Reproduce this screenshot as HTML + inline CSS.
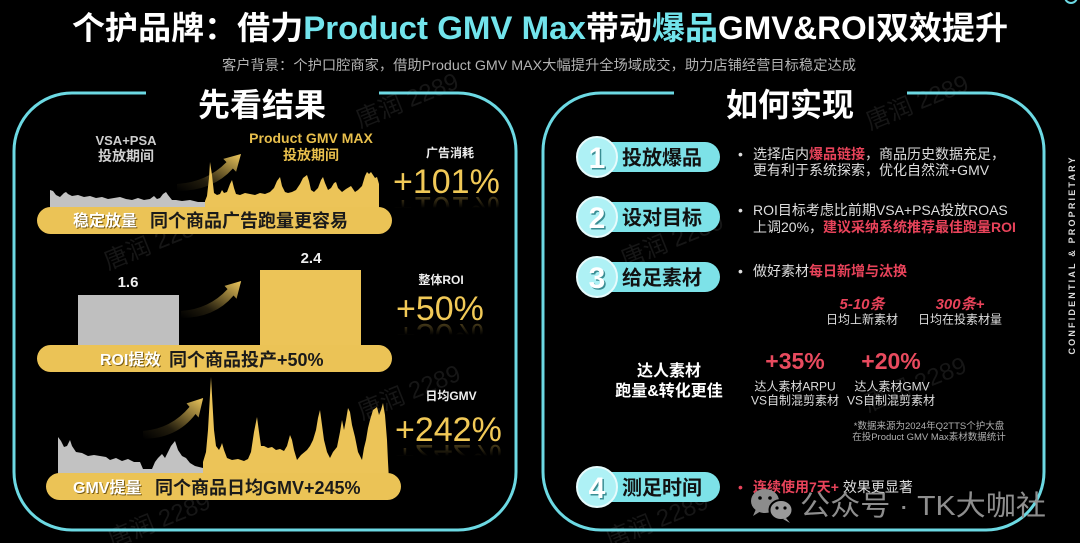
<!DOCTYPE html>
<html><head><meta charset="utf-8"><style>
html,body{margin:0;padding:0;background:#000;}
svg{display:block;}
</style></head><body>
<svg width="1080" height="543" viewBox="0 0 1080 543" xmlns="http://www.w3.org/2000/svg" font-family="'Liberation Sans','Noto Sans CJK SC',sans-serif">
<defs>
<linearGradient id="ag" x1="0" y1="1" x2="1" y2="0">
<stop offset="0" stop-color="#e9c35a" stop-opacity="0"/>
<stop offset="0.35" stop-color="#e9c35a" stop-opacity="0.15"/>
<stop offset="1" stop-color="#eec85c" stop-opacity="1"/>
</linearGradient>
<linearGradient id="rg" x1="0" y1="0" x2="0" y2="1">
<stop offset="0" stop-color="#f0c85a" stop-opacity="0"/>
<stop offset="0.5" stop-color="#f0c85a" stop-opacity="0"/>
<stop offset="1" stop-color="#f0c85a" stop-opacity="0.5"/>
</linearGradient>
<path id="arr" d="M0,30 Q30,28 49.5,8.1 L46.3,4.9 L64,0 L59.1,17.7 L55.9,14.5 Q36,37 0,37 Z"/>
</defs>
<rect width="1080" height="543" fill="#000"/>

<!-- watermarks -->
<g fill="#161616" font-size="24">
<text transform="translate(360,128) rotate(-22)">唐润 2289</text>
<text transform="translate(108,270) rotate(-22)">唐润 2289</text>
<text transform="translate(362,420) rotate(-22)">唐润 2289</text>
<text transform="translate(112,548) rotate(-22)">唐润 2289</text>
<text transform="translate(870,130) rotate(-22)">唐润 2289</text>
<text transform="translate(625,268) rotate(-22)">唐润 2289</text>
<text transform="translate(868,412) rotate(-22)">唐润 2289</text>
<text transform="translate(610,548) rotate(-22)">唐润 2289</text>
</g>

<!-- top-right dot -->
<circle cx="1071" cy="-3" r="6" fill="none" stroke="#6cd9e3" stroke-width="2"/>

<!-- title -->
<text x="540" y="39" text-anchor="middle" font-size="32" font-weight="bold" fill="#fff" textLength="936" lengthAdjust="spacingAndGlyphs">个护品牌：借力<tspan fill="#72e4ec">Product GMV Max</tspan>带动<tspan fill="#72e4ec">爆品</tspan>GMV&amp;ROI双效提升</text>
<text x="539" y="70" text-anchor="middle" font-size="14" fill="#b3b3b3" textLength="634" lengthAdjust="spacingAndGlyphs">客户背景：个护口腔商家，借助Product GMV MAX大幅提升全场域成交，助力店铺经营目标稳定达成</text>

<!-- panels -->
<g fill="none" stroke="#6cd9e3" stroke-width="3">
<path d="M146,93 H72 A58,58 0 0 0 14,151 V472 A58,58 0 0 0 72,530 H458 A58,58 0 0 0 516,472 V151 A58,58 0 0 0 458,93 H379"/>
<path d="M674,93 H601 A58,58 0 0 0 543,151 V472 A58,58 0 0 0 601,530 H986 A58,58 0 0 0 1044,472 V151 A58,58 0 0 0 986,93 H907"/>
</g>
<text x="262" y="116" text-anchor="middle" font-size="32" font-weight="bold" fill="#fff">先看结果</text>
<text x="790" y="116" text-anchor="middle" font-size="32" font-weight="bold" fill="#fff">如何实现</text>

<!-- ===== Section 1 ===== -->
<g font-weight="bold" text-anchor="middle">
<text x="126" y="145" font-size="13" fill="#cfcfcf">VSA+PSA</text>
<text x="126" y="161" font-size="14" fill="#cfcfcf">投放期间</text>
<text x="311" y="143" font-size="14" fill="#e8bf4c">Product GMV MAX</text>
<text x="311" y="160" font-size="14" fill="#e8bf4c">投放期间</text>
<text x="450" y="157" font-size="12" fill="#eee">广告消耗</text>
</g>
<polygon fill="#c2c2c2" points="50,215 50,190 53,191 56,195 60,197 64,193 66,192 68,194 72,196 78,195 84,197 90,196 96,198 102,197 108,199 114,198 120,197 126,199 132,200 138,198 144,200 150,199 154,196 157,199 160,198 163,194 166,192 168,195 172,200 176,200 182,201 190,200 198,202 205,202 205,215"/>
<polygon fill="#ecc458" points="205,215 205,201 207,196 209,178 210,162 212,175 214,193 217,195 220,194 222,190 224,193 227,192 230,184 232,180 234,188 236,194 240,195 245,193 250,194 255,195 260,193 265,194 270,192 274,188 277,181 280,177 282,186 285,192 288,193 292,192 296,190 300,184 303,178 307,175 309,181 311,190 314,192 318,188 321,180 323,177 325,183 328,190 331,188 334,183 336,182 338,188 342,192 346,189 351,186 353,189 355,192 358,190 362,186 365,176 367,172 369,174 371,172 373,175 375,178 377,177 379,184 379,215"/>
<use href="#arr" fill="url(#ag)" transform="translate(177,154)"/>
<text x="393" y="193" font-size="34" fill="#f1c957">+101%</text>
<text x="393" y="193" font-size="34" fill="url(#rg)" transform="translate(0,390) scale(1,-1)">+101%</text>
<rect x="37" y="207" width="355" height="27" rx="13.5" fill="#ebc356"/>
<text x="74" y="227" font-size="16" font-weight="bold" fill="#7a5d15">稳定放量</text>
<text x="73" y="226" font-size="16" font-weight="bold" fill="#fff">稳定放量</text>
<text x="150" y="227" font-size="18" font-weight="bold" fill="#1a1a1a">同个商品广告跑量更容易</text>

<!-- ===== Section 2 ===== -->
<rect x="78" y="295" width="101" height="55" fill="#bfbfbf"/>
<rect x="260" y="270" width="101" height="80" fill="#ecc458"/>
<g font-weight="bold" text-anchor="middle">
<text x="128" y="287" font-size="15" fill="#eee">1.6</text>
<text x="311" y="263" font-size="15" fill="#eee">2.4</text>
<text x="441" y="284" font-size="12" fill="#eee">整体ROI</text>
</g>
<use href="#arr" fill="url(#ag)" transform="translate(181,281) scale(0.94,1)"/>
<text x="396" y="320" font-size="34" fill="#f1c957">+50%</text>
<text x="396" y="320" font-size="34" fill="url(#rg)" transform="translate(0,644) scale(1,-1)">+50%</text>
<rect x="37" y="345" width="355" height="27" rx="13.5" fill="#ebc356"/>
<text x="101" y="366" font-size="16" font-weight="bold" fill="#7a5d15">ROI提效</text>
<text x="100" y="365" font-size="16" font-weight="bold" fill="#fff">ROI提效</text>
<text x="169" y="366" font-size="18" font-weight="bold" fill="#1a1a1a">同个商品投产+50%</text>

<!-- ===== Section 3 ===== -->
<polygon fill="#c2c2c2" points="58,480 58,437 61,441 64,447 67,446 70,440 72,446 76,452 82,453 88,456 94,455 100,456 106,457 110,460 116,458 122,461 128,459 134,462 140,462 143,469 152,469 155,462 158,458 162,454 165,458 168,452 171,446 175,441 178,450 182,456 186,458 190,463 195,466 203,468 203,480"/>
<polygon fill="#ecc458" points="203,480 203,462 206,452 208,430 210,395 211,377 212,395 214,430 216,446 219,450 221,446 222,443 224,450 227,458 232,460 238,459 244,461 248,459 251,452 254,432 257,417 259,432 261,446 264,446 268,448 272,447 276,450 280,449 284,451 287,446 290,435 292,440 294,450 297,460 301,455 307,450 310,446 313,440 316,430 318,418 320,410 322,425 324,440 327,452 330,458 333,452 337,447 340,432 342,420 344,430 346,420 348,408 350,412 352,425 355,437 358,452 362,460 364,448 366,440 368,428 370,420 373,410 377,407 379,415 381,410 383,403 385,415 387,440 388,462 389,480"/>
<use href="#arr" fill="url(#ag)" transform="translate(143,398) scale(0.94,1.1)"/>
<text x="451" y="400" text-anchor="middle" font-size="12" font-weight="bold" fill="#eee">日均GMV</text>
<text x="395" y="441" font-size="34" fill="#f1c957">+242%</text>
<text x="395" y="441" font-size="34" fill="url(#rg)" transform="translate(0,886) scale(1,-1)">+242%</text>
<rect x="46" y="473" width="355" height="27" rx="13.5" fill="#ebc356"/>
<text x="74" y="494" font-size="16" font-weight="bold" fill="#7a5d15">GMV提量</text>
<text x="73" y="493" font-size="16" font-weight="bold" fill="#fff">GMV提量</text>
<text x="155" y="494" font-size="18" font-weight="bold" fill="#1a1a1a">同个商品日均GMV+245%</text>

<!-- ===== Right steps ===== -->
<g>
<rect x="597" y="142" width="123" height="30" rx="15" fill="#7de2e8"/>
<rect x="597" y="202" width="123" height="30" rx="15" fill="#7de2e8"/>
<rect x="597" y="262" width="123" height="30" rx="15" fill="#7de2e8"/>
<rect x="597" y="472" width="123" height="30" rx="15" fill="#7de2e8"/>
<g fill="#aef1f5" stroke="#e6fbfc" stroke-width="2">
<circle cx="597" cy="157" r="20"/>
<circle cx="597" cy="217" r="20"/>
<circle cx="597" cy="277" r="20"/>
<circle cx="597" cy="487" r="20"/>
</g>
<g font-size="30" font-weight="bold" text-anchor="middle">
<text x="598.5" y="169.5" fill="#3a8d93">1</text><text x="597" y="168" fill="#fff">1</text>
<text x="598.5" y="229.5" fill="#3a8d93">2</text><text x="597" y="228" fill="#fff">2</text>
<text x="598.5" y="289.5" fill="#3a8d93">3</text><text x="597" y="288" fill="#fff">3</text>
<text x="598.5" y="499.5" fill="#3a8d93">4</text><text x="597" y="498" fill="#fff">4</text>
</g>
<g font-size="20" font-weight="bold" fill="#111">
<text x="622" y="164.5">投放爆品</text>
<text x="622" y="224.5">设对目标</text>
<text x="622" y="284.5">给足素材</text>
<text x="622" y="494.5">测足时间</text>
</g>
</g>

<g font-size="14" fill="#dedede">
<text x="738" y="159">•</text>
<text x="753" y="159">选择店内<tspan fill="#e8435a" font-weight="bold">爆品链接</tspan>，商品历史数据充足，</text>
<text x="753" y="175">更有利于系统探索，优化自然流+GMV</text>
<text x="738" y="215">•</text>
<text x="753" y="215">ROI目标考虑比前期VSA+PSA投放ROAS</text>
<text x="753" y="232">上调20%，<tspan fill="#e8435a" font-weight="bold">建议采纳系统推荐最佳跑量ROI</tspan></text>
<text x="738" y="276">•</text>
<text x="753" y="276">做好素材<tspan fill="#e8435a" font-weight="bold">每日新增与汰换</tspan></text>
<text x="738" y="492" fill="#e8435a">•</text>
<text x="753" y="492"><tspan fill="#e8435a" font-weight="bold">连续使用7天+</tspan> 效果更显著</text>
</g>

<g text-anchor="middle">
<text x="862" y="309" font-size="15" font-weight="bold" font-style="italic" fill="#e8435a">5-10条</text>
<text x="960" y="309" font-size="15" font-weight="bold" font-style="italic" fill="#e8435a">300条+</text>
<text x="862" y="323.5" font-size="12" fill="#dedede">日均上新素材</text>
<text x="960" y="323.5" font-size="12" fill="#dedede">日均在投素材量</text>
<text x="669" y="376" font-size="16" font-weight="bold" fill="#fff">达人素材</text>
<text x="669" y="396" font-size="16" font-weight="bold" fill="#fff">跑量&amp;转化更佳</text>
<text x="795" y="369" font-size="23" font-weight="bold" fill="#e84a5e">+35%</text>
<text x="891" y="369" font-size="23" font-weight="bold" fill="#e84a5e">+20%</text>
<text x="795" y="390.5" font-size="12" fill="#dedede">达人素材ARPU</text>
<text x="795" y="404.5" font-size="12" fill="#dedede">VS自制混剪素材</text>
<text x="892" y="390.5" font-size="12" fill="#dedede">达人素材GMV</text>
<text x="891" y="404.5" font-size="12" fill="#dedede">VS自制混剪素材</text>
<text x="929" y="429" font-size="9.5" fill="#b0b0b0">*数据来源为2024年Q2TTS个护大盘</text>
<text x="929" y="440" font-size="9.5" fill="#b0b0b0">在投Product GMV Max素材数据统计</text>
</g>

<!-- confidential -->
<text transform="translate(1075,256) rotate(-90)" text-anchor="middle" font-size="9" font-weight="bold" fill="#dcdcdc" textLength="197" lengthAdjust="spacing">CONFIDENTIAL &amp; PROPRIETARY</text>

<!-- wechat watermark -->
<g>
<ellipse cx="765" cy="501" rx="14" ry="12" fill="#8c8c8c"/>
<path d="M756,509 L753,516 L761,511 Z" fill="#8c8c8c"/>
<circle cx="760" cy="498" r="1.8" fill="#000"/>
<circle cx="770" cy="498" r="1.8" fill="#000"/>
<ellipse cx="781" cy="510" rx="11.5" ry="10" fill="#9a9a9a" stroke="#000" stroke-width="2"/>
<path d="M786,518 L790,523 L783,519 Z" fill="#9a9a9a"/>
<circle cx="777" cy="508" r="1.6" fill="#000"/>
<circle cx="785" cy="508" r="1.6" fill="#000"/>
<text x="800" y="515" font-size="28" fill="#8e8e8e" textLength="246" lengthAdjust="spacingAndGlyphs">公众号 · TK大咖社</text>
</g>
</svg>
</body></html>
